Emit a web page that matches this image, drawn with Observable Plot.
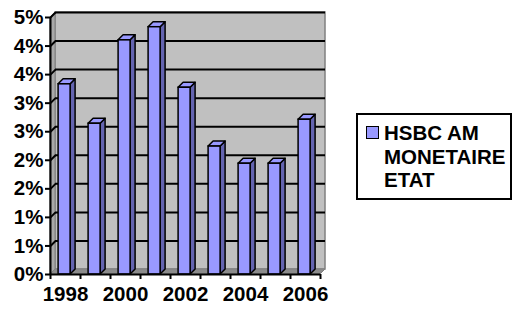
<!DOCTYPE html>
<html>
<head>
<meta charset="utf-8">
<script src="https://cdn.jsdelivr.net/npm/d3@7"></script>
<script src="https://cdn.jsdelivr.net/npm/@observablehq/plot@0.6"></script>
<style>
  html, body { margin: 0; padding: 0; background: #fff; }
  #wrap { position: relative; width: 515px; height: 309px; font-family: "Liberation Sans", Arial, sans-serif; font-weight: bold; }
  #chart { position: absolute; left: 0; top: 0; }
  #legend { position: absolute; left: 356px; top: 113px; width: 152px; height: 83px; border: 2px solid #000; background: #fff; }
  #legend .sw { position: absolute; left: 8px; top: 11px; width: 11px; height: 11px; background: #9999ff; border: 1px solid #000; }
  #legend .tx { position: absolute; left: 26px; top: 6px; font-size: 20.5px; line-height: 23.5px; color: #000; }
</style>
</head>
<body>
<div id="wrap">
  <div id="chart"></div>
  <div id="legend"><div class="sw"></div><div class="tx" id="legtext"></div></div>
</div>
<script>
// ---- data ----
const years = [1998, 1999, 2000, 2001, 2002, 2003, 2004, 2005, 2006];
const values = [3.33, 2.64, 4.10, 4.33, 3.27, 2.24, 1.94, 1.94, 2.71];
const seriesName = ["HSBC AM", "MONETAIRE", "ETAT"];
const xTickYears = [1998, 2000, 2002, 2004, 2006];
const xTickLabels = ["1998", "2000", "2002", "2004", "2006"];
const yTicks = [0, 0.5, 1, 1.5, 2, 2.5, 3, 3.5, 4, 4.5];
const yTickLabels = ["0%", "1%", "1%", "2%", "2%", "3%", "3%", "4%", "4%", "5%"];

// ---- geometry (scale units) ----
const X0 = years[0] - 0.5, X1 = years[years.length - 1] + 0.5;
const YMAX = yTicks[yTicks.length - 1];
const W = 340, H = 309, ML = 50, MR = 20, MT = 17, MB = 35;
const DEPTH = 5; // px
const DX = DEPTH * (X1 - X0) / (W - ML - MR);
const DY = DEPTH * YMAX / (H - MT - MB);
const BL = 0.23, BR = 0.17; // bar half-widths (years)

const bars = years.map((yr, i) => ({yr, v: values[i], x1: yr - BL, x2: yr + BR}));
const sideFaces = bars.flatMap(b => [
  {z: b.yr, x: b.x2, y1: 0, y2: b.v},
  {z: b.yr, x: b.x2 + DX, y1: DY, y2: b.v + DY}
]);
const topFaces = bars.flatMap(b => [
  {z: b.yr, x: b.x1, y1: b.v, y2: b.v},
  {z: b.yr, x: b.x1 + DX, y1: b.v, y2: b.v + DY},
  {z: b.yr, x: b.x2, y1: b.v, y2: b.v + DY},
  {z: b.yr, x: b.x2 + DX, y1: b.v + DY, y2: b.v + DY}
]);
const sideWall = [
  {x: X0, y1: 0, y2: YMAX},
  {x: X0 + DX, y1: DY, y2: YMAX + DY}
];
const floor = [
  {x: X0, y1: 0, y2: 0},
  {x: X0 + DX, y1: 0, y2: DY},
  {x: X1, y1: 0, y2: DY},
  {x: X1 + DX, y1: DY, y2: DY}
];
const boundaries = d3.range(years.length + 1).map(i => X0 + i);

const chart = Plot.plot({
  width: W, height: H,
  marginLeft: ML, marginRight: MR, marginTop: MT, marginBottom: MB,
  style: {fontFamily: "'Liberation Sans', Arial, sans-serif", fontSize: "20.5px", fontWeight: "bold", color: "#000", background: "transparent", overflow: "visible"},
  x: {domain: [X0, X1], axis: null},
  y: {domain: [0, YMAX], axis: null},
  marks: [
    // walls
    Plot.rect([0], {x1: X0 + DX, x2: X1 + DX, y1: DY, y2: YMAX + DY, fill: "#c0c0c0", stroke: "#808080", strokeWidth: 1.5}),
    Plot.areaY(sideWall, {x: "x", y1: "y1", y2: "y2", fill: "#a8a8a8", stroke: "#808080", strokeWidth: 1}),
    Plot.areaY(floor, {x: "x", y1: "y1", y2: "y2", fill: "#8c8c8c", stroke: "#808080", strokeWidth: 1}),
    // gridlines
    Plot.ruleY(yTicks.slice(1), {y: d => d + DY, x1: X0 + DX, x2: X1 + DX, stroke: "#000", strokeWidth: 2}),
    Plot.link(yTicks.slice(1), {x1: X0, y1: d => d, x2: X0 + DX, y2: d => d + DY, stroke: "#000", strokeWidth: 2}),
    // 3D bars
    Plot.areaY(sideFaces, {x: "x", y1: "y1", y2: "y2", z: "z", fill: "#6464b0", stroke: "#000", strokeWidth: 1.5}),
    Plot.areaY(topFaces, {x: "x", y1: "y1", y2: "y2", z: "z", fill: "#9999ff", stroke: "#000", strokeWidth: 1.5}),
    Plot.rectY(bars, {x1: "x1", x2: "x2", y1: 0, y2: "v", fill: "#9999ff", stroke: "#000", strokeWidth: 1.5}),
    // axes
    Plot.ruleY([0], {x1: X0, x2: X1, stroke: "#000", strokeWidth: 2}),
    Plot.ruleX([X0], {y1: 0, y2: YMAX, stroke: "#000", strokeWidth: 2}),
    Plot.axisY({ticks: yTicks, tickSize: 5, tickPadding: 2, strokeWidth: 2,
      tickFormat: d => yTickLabels[yTicks.indexOf(d)]}),
    Plot.axisX({ticks: boundaries, tickSize: 5, strokeWidth: 2, tickFormat: () => ""}),
    Plot.axisX({ticks: xTickYears, tickSize: 0, tickPadding: 12,
      tickFormat: d => xTickLabels[xTickYears.indexOf(d)]})
  ]
});
document.getElementById("chart").appendChild(chart);
document.getElementById("legtext").innerHTML = seriesName.join("<br>");
</script>
</body>
</html>
